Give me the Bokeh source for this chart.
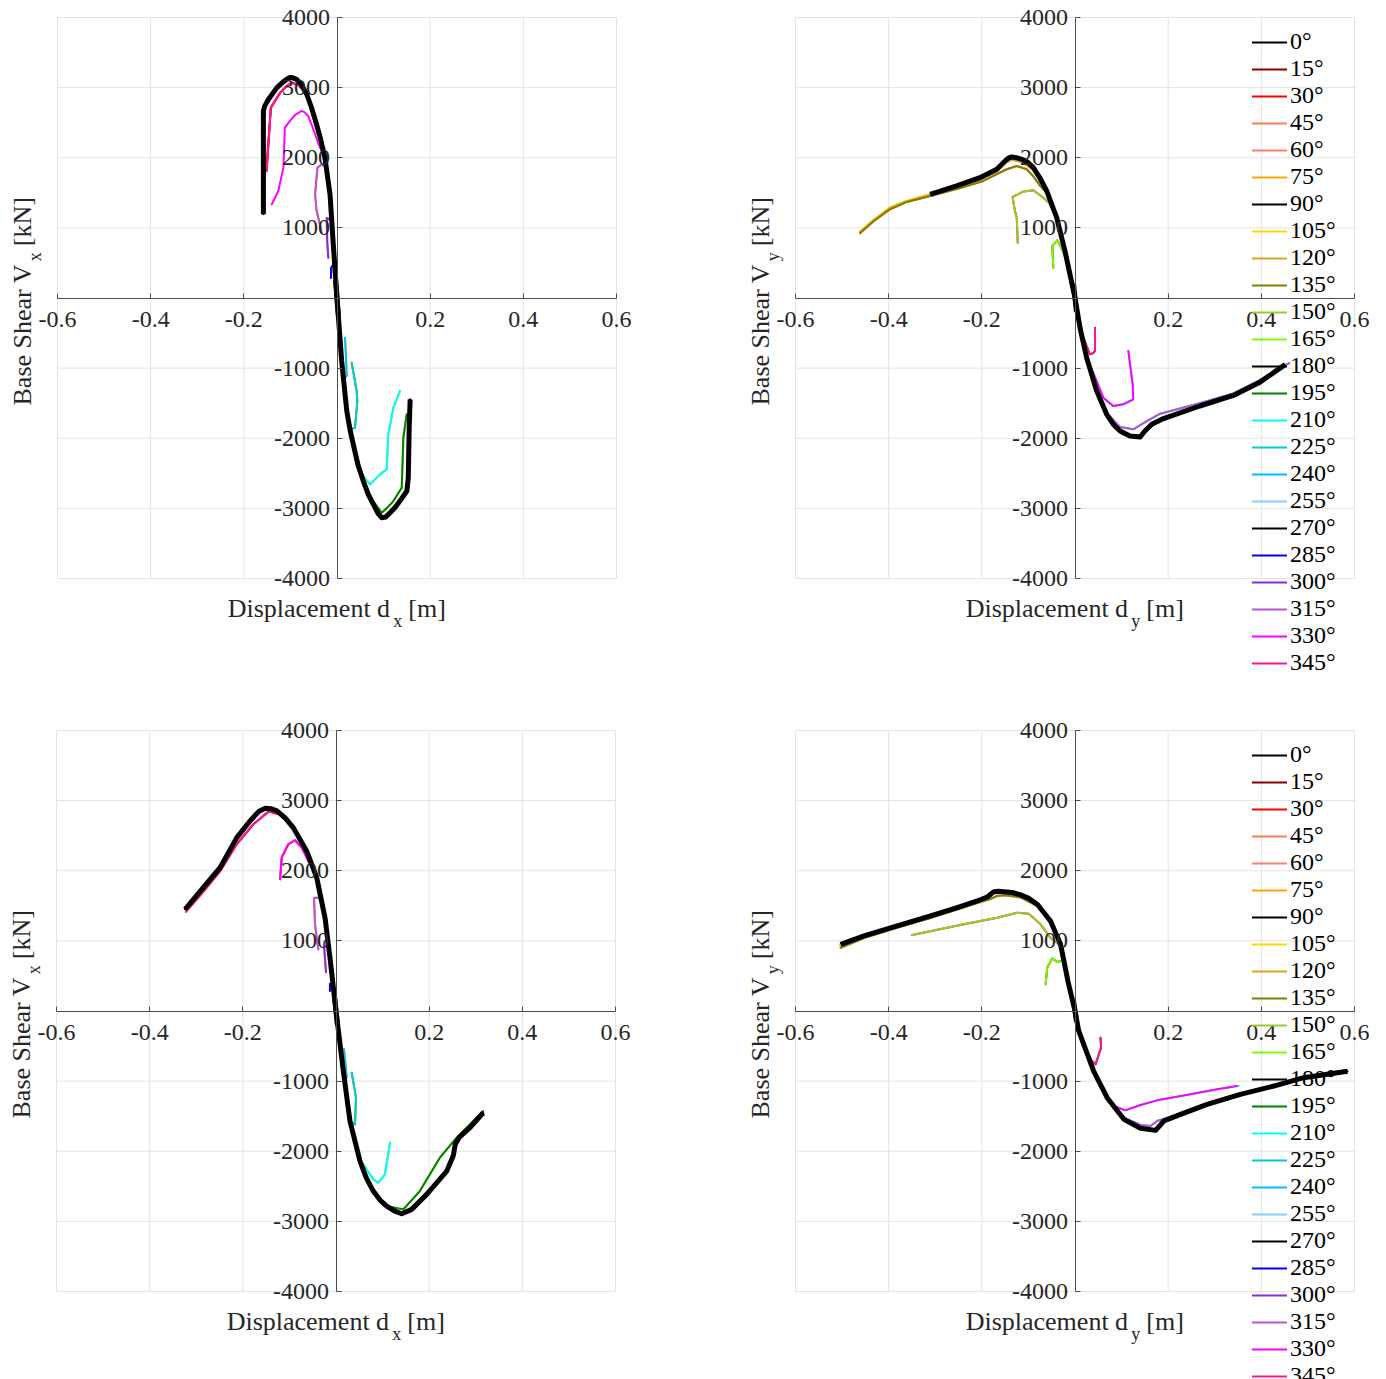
import math
from bokeh.plotting import figure
from bokeh.models import (Range1d, LinearAxis, FixedTicker, Label, Legend,
                          LegendItem, ColumnDataSource)
from bokeh.layouts import column, row
from bokeh.embed import file_html
from bokeh.resources import INLINE

# ---------------- data ----------------
ANGLES = [0, 15, 30, 45, 60, 75, 90, 105, 120, 135, 150, 165,
          180, 195, 210, 225, 240, 255, 270, 285, 300, 315, 330, 345]
ANGLE_LABELS = ["0°", "15°", "30°", "45°", "60°", "75°", "90°", "105°", "120°", "135°",
                "150°", "165°", "180°", "195°", "210°", "225°", "240°", "255°", "270°",
                "285°", "300°", "315°", "330°", "345°"]
COLORS = ["#000000", "#8B0000", "#FF0000", "#FF7F50", "#FA8072", "#FFA500",
          "#000000", "#FFD700", "#DAA520", "#808000", "#9ACD32", "#7CFC00",
          "#000000", "#008000", "#00FFFF", "#00CED1", "#00BFFF", "#87CEFA",
          "#000000", "#0000FF", "#8A2BE2", "#BA55D3", "#FF00FF", "#FF1493"]
BLACK_ANGLES = [0, 90, 180, 270]

X_LIMITS = [-0.6, 0.6]
Y_LIMITS = [-4000, 4000]
X_TICKS = [-0.6, -0.4, -0.2, 0.2, 0.4, 0.6]
X_TICK_LABELS = ["-0.6", "-0.4", "-0.2", "0.2", "0.4", "0.6"]
Y_TICKS = [-4000, -3000, -2000, -1000, 1000, 2000, 3000, 4000]
Y_TICK_LABELS = ["-4000", "-3000", "-2000", "-1000", "1000", "2000", "3000", "4000"]

# ---- Panel A: top-left, Vx vs dx ----
A_BLK_L_d = [0.0, -0.008, -0.015, -0.026, -0.035, -0.044, -0.055, -0.065, -0.077, -0.087, -0.095, -0.101, -0.108, -0.115, -0.129, -0.147, -0.155, -0.158, -0.158]
A_BLK_L_v = [0, 766, 1479, 2001, 2260, 2478, 2720, 2906, 3050, 3119, 3140, 3143, 3120, 3085, 3000, 2834, 2740, 2668, 1194]
A_BLK_R_d = [0.0, 0.010, 0.021, 0.028, 0.035, 0.045, 0.0565, 0.067, 0.078, 0.088, 0.096, 0.104, 0.114, 0.125, 0.135, 0.150, 0.153, 0.155, 0.157]
A_BLK_R_v = [0, -899, -1612, -1880, -2087, -2380, -2610, -2800, -2943, -3070, -3134, -3125, -3062, -2985, -2896, -2753, -2563, -1850, -1445]
A_345_d = [0.0, -0.008, -0.015, -0.026, -0.044, -0.065, -0.083, -0.097, -0.110, -0.122, -0.142, -0.151]
A_345_v = [0, 766, 1479, 2001, 2478, 2906, 3040, 3071, 3010, 2929, 2715, 1812]
A_030_d = [0.0, -0.008, -0.015, -0.026, -0.044, -0.065, -0.083, -0.097, -0.110, -0.122, -0.142, -0.150, -0.160]
A_030_v = [0, 766, 1479, 2001, 2478, 2906, 3040, 3071, 3010, 2929, 2715, 2000, 1550]
A_330_d = [0.0, -0.008, -0.015, -0.026, -0.040, -0.047, -0.055, -0.062, -0.070, -0.076, -0.090, -0.101, -0.112, -0.115, -0.126, -0.140]
A_330_v = [0, 766, 1479, 2001, 2200, 2335, 2480, 2596, 2650, 2668, 2610, 2525, 2429, 1859, 1526, 1336]
A_315_d = [0.0, -0.008, -0.015, -0.024, -0.034, -0.042, -0.047, -0.044, -0.040, -0.033]
A_315_v = [0, 766, 1479, 1880, 1900, 1859, 1479, 1250, 1145, 932]
A_300_d = [0.0, -0.008, -0.012, -0.022, -0.021, -0.0186]
A_300_v = [0, 766, 1100, 1145, 800, 575]
A_285_d = [0.0, -0.006, -0.0125, -0.013]
A_285_v = [0, 500, 430, 285]
A_090_d = [0.0, -0.003]
A_090_v = [0, 250]
A_270_d = [0.0, 0.003]
A_270_v = [0, -250]
A_195_d = [0.0, 0.010, 0.021, 0.035, 0.0565, 0.078, 0.096, 0.110, 0.121, 0.139, 0.1424, 0.1496]
A_195_v = [0, -899, -1612, -2087, -2610, -2900, -3062, -2975, -2896, -2706, -1993, -1659]
A_210_d = [0.0, 0.010, 0.021, 0.038, 0.053, 0.0708, 0.0923, 0.1067, 0.110, 0.121, 0.135]
A_210_v = [0, -899, -1612, -2135, -2515, -2658, -2515, -2444, -1945, -1565, -1327]
A_225_d = [0.0, 0.010, 0.021, 0.030, 0.0386, 0.0437, 0.0423, 0.0315]
A_225_v = [0, -899, -1612, -1870, -1850, -1469, -1327, -923]
A_240_d = [0.0, 0.007, 0.013, 0.0208, 0.019, 0.0172]
A_240_v = [0, -620, -1150, -1113, -800, -566]
A_255_d = [0.0, 0.005]
A_255_v = [0, -450]

# ---- Panel B: top-right, Vy vs dy ----
B_BLK_L_d = [0.0, -0.0215, -0.0393, -0.0608, -0.075, -0.0895, -0.102, -0.114, -0.126, -0.136, -0.143, -0.150, -0.168, -0.204, -0.254, -0.311]
B_BLK_L_v = [0, 670, 1145, 1526, 1710, 1859, 1940, 1978, 2002, 2011, 1995, 1954, 1836, 1716, 1598, 1479]
B_BLK_R_d = [0.0, 0.0107, 0.025, 0.0466, 0.068, 0.082, 0.0966, 0.118, 0.1395, 0.150, 0.165, 0.19, 0.268, 0.340, 0.397, 0.451]
B_BLK_R_v = [0, -423, -851, -1327, -1659, -1800, -1897, -1969, -1983, -1897, -1800, -1720, -1540, -1390, -1200, -950]
B_300_d = [0.0, 0.0107, 0.025, 0.0466, 0.068, 0.0966, 0.118, 0.1395, 0.150, 0.165, 0.19, 0.268, 0.340, 0.397, 0.451]
B_300_v = [0, -423, -851, -1320, -1650, -1885, -1955, -1965, -1880, -1785, -1705, -1528, -1380, -1190, -950]
B_285_d = [0.0, 0.0107, 0.025, 0.0466, 0.068, 0.0966, 0.118, 0.1395, 0.150, 0.165, 0.19, 0.268, 0.340, 0.397, 0.44]
B_285_v = [0, -423, -851, -1327, -1659, -1897, -1969, -1983, -1897, -1800, -1720, -1540, -1390, -1200, -990]
B_315_d = [0.0, 0.0107, 0.025, 0.0466, 0.068, 0.0966, 0.125, 0.154, 0.183, 0.268, 0.340, 0.397, 0.46]
B_315_v = [0, -423, -851, -1327, -1640, -1840, -1873, -1755, -1650, -1500, -1360, -1170, -930]
B_330_d = [0.0, 0.0107, 0.025, 0.0466, 0.0608, 0.082, 0.1037, 0.125, 0.1238, 0.1145]
B_330_v = [0, -423, -851, -1184, -1422, -1540, -1516, -1445, -1231, -756]
B_345_d = [0.0, 0.0107, 0.020, 0.026, 0.032, 0.038, 0.043, 0.043]
B_345_v = [0, -423, -600, -700, -803, -790, -756, -423]
B_105_d = [0.0, -0.0215, -0.0393, -0.0608, -0.0895, -0.114, -0.136, -0.150, -0.168, -0.204, -0.254, -0.311, -0.361, -0.397, -0.433, -0.4616]
B_105_v = [0, 660, 1130, 1510, 1840, 1955, 1985, 1935, 1815, 1700, 1585, 1479, 1384, 1290, 1110, 945]
B_120_d = [0.0, -0.0215, -0.0393, -0.0608, -0.0895, -0.114, -0.136, -0.150, -0.168, -0.204, -0.254, -0.311, -0.361, -0.397, -0.433, -0.4616]
B_120_v = [0, 655, 1120, 1500, 1825, 1940, 1970, 1922, 1805, 1690, 1575, 1470, 1378, 1282, 1102, 940]
B_135_d = [0.0, -0.0215, -0.0393, -0.060, -0.075, -0.090, -0.1037, -0.125, -0.1466, -0.197, -0.25, -0.311, -0.361, -0.397, -0.433, -0.4616]
B_135_v = [0, 670, 1145, 1500, 1600, 1740, 1836, 1883, 1836, 1669, 1560, 1455, 1370, 1265, 1090, 925]
B_150_d = [0.0, -0.0215, -0.0393, -0.055, -0.068, -0.0895, -0.110, -0.134, -0.129, -0.125, -0.123]
B_150_v = [0, 670, 1145, 1350, 1431, 1536, 1520, 1441, 1241, 1145, 789]
B_165_d = [0.0, -0.015, -0.028, -0.038, -0.0487, -0.0466]
B_165_v = [0, 480, 700, 823, 742, 432]
B_000_d = [0.0, 0.003]
B_000_v = [0, -200]
B_180_d = [0.0, -0.003]
B_180_v = [0, 200]

# ---- Panel C: bottom-left, Vx vs dx ----
C_BLK_L_d = [0.0, -0.0129, -0.0236, -0.0414, -0.063, -0.0917, -0.110, -0.127, -0.140, -0.152, -0.165, -0.1846, -0.213, -0.249, -0.285, -0.324]
C_BLK_L_v = [0, 760, 1331, 1902, 2282, 2615, 2760, 2853, 2885, 2891, 2850, 2710, 2472, 2044, 1759, 1451]
C_BLK_R_d = [0.0, 0.0157, 0.030, 0.0515, 0.065, 0.080, 0.095, 0.1088, 0.125, 0.141, 0.1625, 0.1947, 0.2377, 0.252, 0.256, 0.265, 0.2877, 0.316]
C_BLK_R_v = [0, -856, -1569, -2140, -2380, -2568, -2700, -2782, -2850, -2891, -2829, -2615, -2282, -2060, -1900, -1800, -1664, -1451]
C_345_d = [0.0, -0.0129, -0.0236, -0.0414, -0.063, -0.0917, -0.120, -0.145, -0.1775, -0.213, -0.249, -0.285, -0.322]
C_345_v = [0, 760, 1331, 1902, 2282, 2600, 2800, 2843, 2663, 2378, 1990, 1700, 1417]
C_330_d = [0.0, -0.0129, -0.0236, -0.0414, -0.0558, -0.0736, -0.088, -0.1024, -0.1166, -0.120]
C_330_v = [0, 760, 1331, 1902, 2093, 2330, 2435, 2378, 2187, 1878]
C_315_d = [0.0, -0.0129, -0.0236, -0.032, -0.0472, -0.045, -0.038]
C_315_v = [0, 760, 1331, 1616, 1616, 1236, 880]
C_300_d = [0.0, -0.0129, -0.017, -0.024, -0.0258, -0.0215]
C_300_v = [0, 760, 1000, 1000, 951, 553]
C_285_d = [0.0, -0.006, -0.013, -0.013]
C_285_v = [0, 380, 385, 285]
C_090_d = [0.0, -0.003]
C_090_v = [0, 200]
C_270_d = [0.0, 0.003]
C_270_v = [0, -200]
C_195_d = [0.0, 0.0157, 0.030, 0.0515, 0.080, 0.1088, 0.1445, 0.180, 0.223, 0.259, 0.316]
C_195_v = [0, -856, -1569, -2140, -2568, -2782, -2829, -2568, -2092, -1807, -1426]
C_210_d = [0.0, 0.0157, 0.030, 0.0515, 0.0586, 0.080, 0.0908, 0.105, 0.116]
C_210_v = [0, -856, -1569, -2140, -2187, -2401, -2449, -2330, -1878]
C_225_d = [0.0, 0.0157, 0.030, 0.0408, 0.043, 0.0337]
C_225_v = [0, -856, -1569, -1616, -1236, -880]
C_240_d = [0.0, 0.0157, 0.023, 0.0172]
C_240_v = [0, -856, -951, -546]
C_255_d = [0.0, 0.005]
C_255_v = [0, -280]

# ---- Panel D: bottom-right, Vy vs dy ----
D_BLK_L_d = [0.0, -0.015, -0.031, -0.0526, -0.081, -0.100, -0.117, -0.135, -0.153, -0.165, -0.174, -0.1885, -0.210, -0.253, -0.310, -0.382, -0.453, -0.503]
D_BLK_L_v = [0, 420, 951, 1284, 1522, 1610, 1655, 1690, 1702, 1706, 1702, 1626, 1569, 1474, 1355, 1213, 1070, 951]
D_BLK_R_d = [0.0, 0.008, 0.040, 0.069, 0.105, 0.1406, 0.173, 0.1906, 0.2265, 0.2838, 0.355, 0.4268, 0.491, 0.585]
D_BLK_R_v = [0, -285, -856, -1236, -1545, -1673, -1702, -1569, -1474, -1331, -1188, -1070, -951, -860]
D_105_d = [0.0, -0.015, -0.031, -0.0526, -0.081, -0.117, -0.153, -0.174, -0.1885, -0.210, -0.253, -0.310, -0.382, -0.453, -0.503]
D_105_v = [0, 418, 945, 1278, 1515, 1648, 1694, 1694, 1618, 1561, 1466, 1347, 1205, 1062, 943]
D_120_d = [0.0, -0.015, -0.031, -0.0526, -0.081, -0.117, -0.153, -0.174, -0.1885, -0.210, -0.253, -0.310, -0.382, -0.453, -0.503]
D_120_v = [0, 415, 940, 1270, 1505, 1640, 1680, 1682, 1608, 1552, 1456, 1338, 1196, 1052, 932]
D_135_d = [0.0, -0.015, -0.031, -0.0526, -0.081, -0.117, -0.150, -0.167, -0.185, -0.210, -0.253, -0.310, -0.382, -0.453, -0.503]
D_135_v = [0, 420, 951, 1270, 1495, 1620, 1650, 1640, 1590, 1540, 1445, 1325, 1185, 1040, 900]
D_150_d = [0.0, -0.015, -0.031, -0.045, -0.0526, -0.074, -0.099, -0.124, -0.167, -0.2387, -0.3495]
D_150_v = [0, 420, 951, 1000, 1046, 1236, 1388, 1402, 1331, 1236, 1084]
D_165_d = [0.0, -0.015, -0.026, -0.038, -0.049, -0.0597, -0.063]
D_165_v = [0, 420, 720, 700, 751, 618, 380]
D_300_d = [0.0, 0.008, 0.040, 0.069, 0.105, 0.1406, 0.173, 0.1906, 0.2265, 0.2838, 0.355, 0.4268, 0.491, 0.57]
D_300_v = [0, -285, -856, -1236, -1540, -1665, -1690, -1560, -1465, -1323, -1180, -1062, -945, -870]
D_285_d = [0.0, 0.008, 0.040, 0.069, 0.105, 0.1406, 0.173, 0.1906, 0.2265, 0.2838, 0.355, 0.4268, 0.491, 0.575]
D_285_v = [0, -285, -856, -1236, -1545, -1673, -1702, -1569, -1474, -1331, -1188, -1070, -951, -865]
D_315_d = [0.0, 0.008, 0.040, 0.069, 0.105, 0.1406, 0.162, 0.1765, 0.2265, 0.2838, 0.355, 0.4268, 0.491, 0.57]
D_315_v = [0, -285, -856, -1236, -1520, -1626, -1640, -1569, -1460, -1315, -1175, -1055, -940, -870]
D_330_d = [0.0, 0.008, 0.040, 0.069, 0.0833, 0.108, 0.1406, 0.1765, 0.248, 0.305, 0.348]
D_330_v = [0, -285, -856, -1236, -1355, -1417, -1341, -1274, -1188, -1117, -1070]
D_210_d = [0.0, 0.008, 0.040, 0.069, 0.0833, 0.108, 0.1406, 0.1765, 0.248, 0.305, 0.352]
D_210_v = [0, -285, -856, -1236, -1355, -1417, -1341, -1274, -1188, -1117, -1066]
D_345_d = [0.0, 0.008, 0.030, 0.033, 0.044, 0.056, 0.0547]
D_345_v = [0, -285, -650, -689, -761, -523, -380]
D_000_d = [0.0, 0.003]
D_000_v = [0, -150]
D_180_d = [0.0, -0.003]
D_180_v = [0, 150]

# angle -> curve for each panel
PANEL_A = {0: (A_BLK_L_d, A_BLK_L_v), 15: (A_345_d, A_345_v), 30: (A_030_d, A_030_v),
           45: (A_315_d, A_315_v), 60: (A_300_d, A_300_v), 75: (A_285_d, A_285_v),
           90: (A_090_d, A_090_v), 105: (A_255_d, A_255_v), 120: (A_240_d, A_240_v),
           135: (A_225_d, A_225_v), 150: (A_210_d, A_210_v), 165: (A_195_d, A_195_v),
           180: (A_BLK_R_d, A_BLK_R_v), 195: (A_195_d, A_195_v), 210: (A_210_d, A_210_v),
           225: (A_225_d, A_225_v), 240: (A_240_d, A_240_v), 255: (A_255_d, A_255_v),
           270: (A_270_d, A_270_v), 285: (A_285_d, A_285_v), 300: (A_300_d, A_300_v),
           315: (A_315_d, A_315_v), 330: (A_330_d, A_330_v), 345: (A_345_d, A_345_v)}
PANEL_B = {0: (B_000_d, B_000_v), 15: (B_165_d, B_165_v), 30: (B_150_d, B_150_v),
           45: (B_135_d, B_135_v), 60: (B_120_d, B_120_v), 75: (B_105_d, B_105_v),
           90: (B_BLK_L_d, B_BLK_L_v), 105: (B_105_d, B_105_v), 120: (B_120_d, B_120_v),
           135: (B_135_d, B_135_v), 150: (B_150_d, B_150_v), 165: (B_165_d, B_165_v),
           180: (B_180_d, B_180_v), 195: (B_345_d, B_345_v), 210: (B_330_d, B_330_v),
           225: (B_315_d, B_315_v), 240: (B_300_d, B_300_v), 255: (B_285_d, B_285_v),
           270: (B_BLK_R_d, B_BLK_R_v), 285: (B_285_d, B_285_v), 300: (B_300_d, B_300_v),
           315: (B_315_d, B_315_v), 330: (B_330_d, B_330_v), 345: (B_345_d, B_345_v)}
PANEL_C = {0: (C_BLK_L_d, C_BLK_L_v), 15: (C_345_d, C_345_v), 30: (C_330_d, C_330_v),
           45: (C_315_d, C_315_v), 60: (C_300_d, C_300_v), 75: (C_285_d, C_285_v),
           90: (C_090_d, C_090_v), 105: (C_255_d, C_255_v), 120: (C_240_d, C_240_v),
           135: (C_225_d, C_225_v), 150: (C_210_d, C_210_v), 165: (C_195_d, C_195_v),
           180: (C_BLK_R_d, C_BLK_R_v), 195: (C_195_d, C_195_v), 210: (C_210_d, C_210_v),
           225: (C_225_d, C_225_v), 240: (C_240_d, C_240_v), 255: (C_255_d, C_255_v),
           270: (C_270_d, C_270_v), 285: (C_285_d, C_285_v), 300: (C_300_d, C_300_v),
           315: (C_315_d, C_315_v), 330: (C_330_d, C_330_v), 345: (C_345_d, C_345_v)}
PANEL_D = {0: (D_000_d, D_000_v), 15: (D_165_d, D_165_v), 30: (D_150_d, D_150_v),
           45: (D_135_d, D_135_v), 60: (D_120_d, D_120_v), 75: (D_105_d, D_105_v),
           90: (D_BLK_L_d, D_BLK_L_v), 105: (D_105_d, D_105_v), 120: (D_120_d, D_120_v),
           135: (D_135_d, D_135_v), 150: (D_150_d, D_150_v), 165: (D_165_d, D_165_v),
           180: (D_180_d, D_180_v), 195: (D_345_d, D_345_v), 210: (D_210_d, D_210_v),
           225: (D_315_d, D_315_v), 240: (D_300_d, D_300_v), 255: (D_285_d, D_285_v),
           270: (D_BLK_R_d, D_BLK_R_v), 285: (D_285_d, D_285_v), 300: (D_300_d, D_300_v),
           315: (D_315_d, D_315_v), 330: (D_330_d, D_330_v), 345: (D_345_d, D_345_v)}

FONT = "Liberation Serif"
TXT = "#262626"
GRID = "#e3e3e3"
AXC = "#4d4d4d"

# pixel layout (page coordinates)
PW = 559.0   # plot-box width (px)
PH = 561.0   # plot-box height (px)
SX = (X_LIMITS[1] - X_LIMITS[0]) / PW
SY = (Y_LIMITS[1] - Y_LIMITS[0]) / PH
LEG_PITCH = 26.96          # measured legend row pitch (px)
LEG_CENTER_FROM_TOP = 335.5  # legend vertical centre below plot-box top (px)


def make_panel(curves, sub, legend, cx, cy, W, H, left_px, top_px):
    xs = X_LIMITS[0] - (left_px - cx) * SX
    ye = Y_LIMITS[1] + (top_px - cy) * SY
    p = figure(x_range=Range1d(xs, xs + W * SX), y_range=Range1d(ye - H * SY, ye),
               frame_width=W, frame_height=H,
               min_border_left=0, min_border_right=0,
               min_border_top=0, min_border_bottom=0,
               x_axis_location=None, y_axis_location=None,
               output_backend="svg", toolbar_location=None)
    p.outline_line_color = None
    p.background_fill_color = "white"
    p.border_fill_color = "white"
    p.xgrid.visible = False
    p.ygrid.visible = False

    # grid lines (only inside the plot box)
    gsx = ColumnDataSource(data=dict(x=X_TICKS, y0=[Y_LIMITS[0]] * len(X_TICKS),
                                     y1=[Y_LIMITS[1]] * len(X_TICKS)))
    p.segment(x0="x", y0="y0", x1="x", y1="y1", source=gsx,
              line_color=GRID, line_width=1, level="underlay")
    gsy = ColumnDataSource(data=dict(y=Y_TICKS, x0=[X_LIMITS[0]] * len(Y_TICKS),
                                     x1=[X_LIMITS[1]] * len(Y_TICKS)))
    p.segment(x0="x0", y0="y", x1="x1", y1="y", source=gsy,
              line_color=GRID, line_width=1, level="underlay")

    xa = LinearAxis(ticker=FixedTicker(ticks=X_TICKS), fixed_location=0,
                    bounds=(X_LIMITS[0], X_LIMITS[1]),
                    major_label_overrides={t: s for t, s in zip(X_TICKS, X_TICK_LABELS)},
                    major_tick_in=5, major_tick_out=0, minor_tick_in=0, minor_tick_out=0,
                    major_label_standoff=14, axis_line_color=AXC,
                    major_tick_line_color=AXC,
                    major_label_text_font=FONT, major_label_text_font_size="24px",
                    major_label_text_color=TXT, level="glyph")
    ya = LinearAxis(ticker=FixedTicker(ticks=Y_TICKS), fixed_location=0,
                    bounds=(Y_LIMITS[0], Y_LIMITS[1]),
                    major_label_overrides={t: s for t, s in zip(Y_TICKS, Y_TICK_LABELS)},
                    major_tick_in=5, major_tick_out=0, minor_tick_in=0, minor_tick_out=0,
                    major_label_standoff=7, axis_line_color=AXC,
                    major_tick_line_color=AXC,
                    major_label_text_font=FONT, major_label_text_font_size="24px",
                    major_label_text_color=TXT, level="glyph")
    p.add_layout(xa, "below")
    p.add_layout(ya, "left")

    thin = []
    for ang, col in zip(ANGLES, COLORS):
        d, v = curves[ang]
        src = ColumnDataSource(data=dict(d=d, v=v))
        r = p.line("d", "v", source=src, line_color=col, line_width=2,
                   line_join="round", line_cap="round")
        thin.append(r)
    for ang in BLACK_ANGLES:
        d, v = curves[ang]
        src = ColumnDataSource(data=dict(d=d, v=v))
        p.line("d", "v", source=src, line_color="black", line_width=5,
               line_join="round", line_cap="butt")

    # axis titles (with subscripts)
    xmid = 0.5 * (X_LIMITS[0] + X_LIMITS[1])
    ymid = 0.5 * (Y_LIMITS[0] + Y_LIMITS[1])
    wx_main, wsub, wspace, wx_unit = 165.0, 9.0, 6.6, 38.1
    x0 = -(wx_main + wsub + wspace + wx_unit) / 2
    common = dict(text_baseline="middle", text_font=FONT, text_color=TXT, text_align="left")
    p.add_layout(Label(x=xmid, y=Y_LIMITS[0], x_offset=x0, y_offset=-30,
                       text="Displacement d", text_font_size="26px", **common))
    p.add_layout(Label(x=xmid, y=Y_LIMITS[0], x_offset=x0 + wx_main + 0.5, y_offset=-42,
                       text=sub, text_font_size="18px", **common))
    p.add_layout(Label(x=xmid, y=Y_LIMITS[0], x_offset=x0 + wx_main + wsub + wspace,
                       y_offset=-30, text="[m]", text_font_size="26px", **common))

    wy_main, wy_unit = 143.7, 55.7
    y0 = -(wy_main + wsub + wspace + wy_unit) / 2
    ang = math.pi / 2
    p.add_layout(Label(x=X_LIMITS[0], y=ymid, x_offset=-35, y_offset=y0, angle=ang,
                       text="Base Shear V", text_font_size="26px", **common))
    p.add_layout(Label(x=X_LIMITS[0], y=ymid, x_offset=-23, y_offset=y0 + wy_main + 0.5,
                       angle=ang, text=sub, text_font_size="18px", **common))
    p.add_layout(Label(x=X_LIMITS[0], y=ymid, x_offset=-35,
                       y_offset=y0 + wy_main + wsub + wspace, angle=ang,
                       text="[kN]", text_font_size="26px", **common))

    if legend:
        items = [LegendItem(label=lab, renderers=[r]) for lab, r in zip(ANGLE_LABELS, thin)]
        leg_left = 1252 - cx
        leg_bottom_page = top_px + LEG_CENTER_FROM_TOP + 12 * LEG_PITCH
        leg_bottom = H - (leg_bottom_page - cy)
        lg = Legend(items=items, location=(leg_left, leg_bottom), margin=0, padding=0,
                    spacing=0, glyph_width=35, glyph_height=20, label_standoff=3,
                    label_height=20, label_text_font=FONT, label_text_font_size="24px",
                    label_text_color="black", background_fill_alpha=0,
                    border_line_color=None)
        p.add_layout(lg)
    return p


W1, W2, H1, H2 = 715, 665, 705, 674
p1 = make_panel(PANEL_A, "x", False, 0, 0, W1, H1, 57, 17)
p2 = make_panel(PANEL_B, "y", True, W1, 0, W2, H1, 795, 17)
p3 = make_panel(PANEL_C, "x", False, 0, H1, W1, H2, 56, 730)
p4 = make_panel(PANEL_D, "y", True, W1, H1, W2, H2, 795, 730)

layout = column(row(p1, p2), row(p3, p4))
open("out.html", "w").write(file_html(layout, INLINE, title="Pushover curves"))
